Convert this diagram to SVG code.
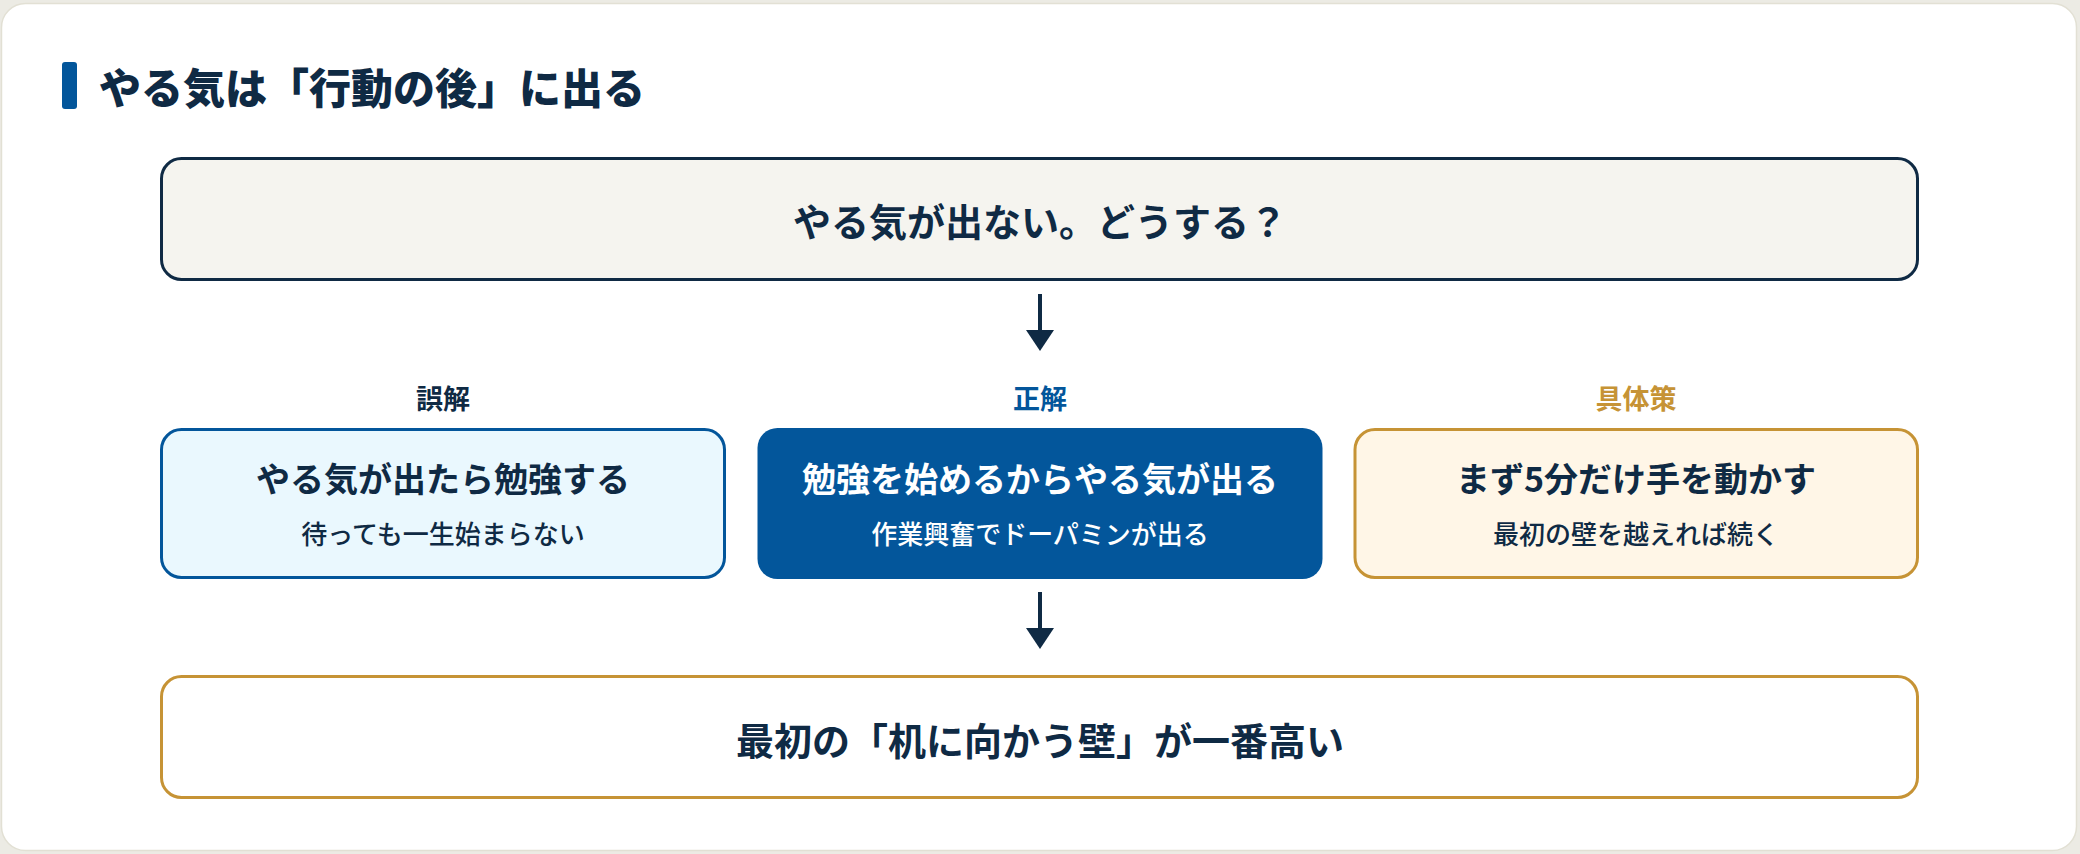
<svg xmlns="http://www.w3.org/2000/svg" width="2080" height="854" viewBox="0 0 2080 854">
<defs>
<style>
.t{font-family:"Noto Sans CJK JP","Noto Sans",sans-serif;font-weight:700;fill:#0f2a44}
.m{text-anchor:middle}
.sub{font-family:"Noto Sans CJK JP","Noto Sans",sans-serif;font-weight:500;font-size:26px;fill:#0f2a44;text-anchor:middle}
.arrow{stroke:#0f2a44;stroke-width:4;fill:none}
.head{fill:#0f2a44}
</style>
</defs>
<rect x="0" y="0" width="2080" height="854" fill="#ecebe4"/>
<rect x="1.5" y="3.5" width="2075" height="847" rx="24" fill="#ffffff" stroke="#e2e0d4" stroke-width="1.5"/>
<g id="title">
<rect x="62" y="62" width="15" height="47" rx="3" fill="#03569b"/>
<text class="t" x="99" y="104" font-size="42" style="font-weight:900">やる気は「行動の後」に出る</text>
</g>
<g id="question">
<rect x="161.5" y="158.5" width="1756" height="121" rx="20" fill="#f5f4ef" stroke="#0f2a44" stroke-width="3"/>
<text class="t m" x="1040" y="236" font-size="38">やる気が出ない。どうする？</text>
</g>
<g id="misconception">
<text class="t m" x="443" y="409" font-size="27">誤解</text>
<rect x="161.5" y="429.5" width="563" height="148" rx="20" fill="#eaf8fe" stroke="#03569b" stroke-width="3"/>
<text class="t m" x="443" y="492" font-size="34">やる気が出たら勉強する</text>
<text class="sub" x="443" y="544">待っても一生始まらない</text>
</g>
<g id="answer">
<text class="t m" x="1040" y="409" font-size="27" style="fill:#03569b">正解</text>
<rect x="757.5" y="428" width="565" height="151" rx="20" fill="#03569b"/>
<text class="t m" x="1040" y="492" font-size="34" style="fill:#ffffff">勉強を始めるからやる気が出る</text>
<text class="sub" x="1040" y="544" style="fill:#ffffff">作業興奮でドーパミンが出る</text>
</g>
<g id="action">
<text class="t m" x="1636" y="409" font-size="27" style="fill:#c69335">具体策</text>
<rect x="1355" y="429.5" width="562.5" height="148" rx="20" fill="#fff6e7" stroke="#c69335" stroke-width="3"/>
<text class="t m" x="1636" y="492" font-size="34">まず5分だけ手を動かす</text>
<text class="sub" x="1636" y="544">最初の壁を越えれば続く</text>
</g>
<g id="conclusion">
<rect x="161.5" y="676.5" width="1756" height="121" rx="20" fill="#ffffff" stroke="#c69335" stroke-width="3"/>
<text class="t m" x="1040" y="755" font-size="38">最初の「机に向かう壁」が一番高い</text>
</g>
<g id="connectors">
<line class="arrow" x1="1040" y1="294" x2="1040" y2="332"/>
<polygon class="head" points="1026,330 1054,330 1040,351"/>
<line class="arrow" x1="1040" y1="592" x2="1040" y2="630"/>
<polygon class="head" points="1026,628 1054,628 1040,649"/>
</g>
</svg>
